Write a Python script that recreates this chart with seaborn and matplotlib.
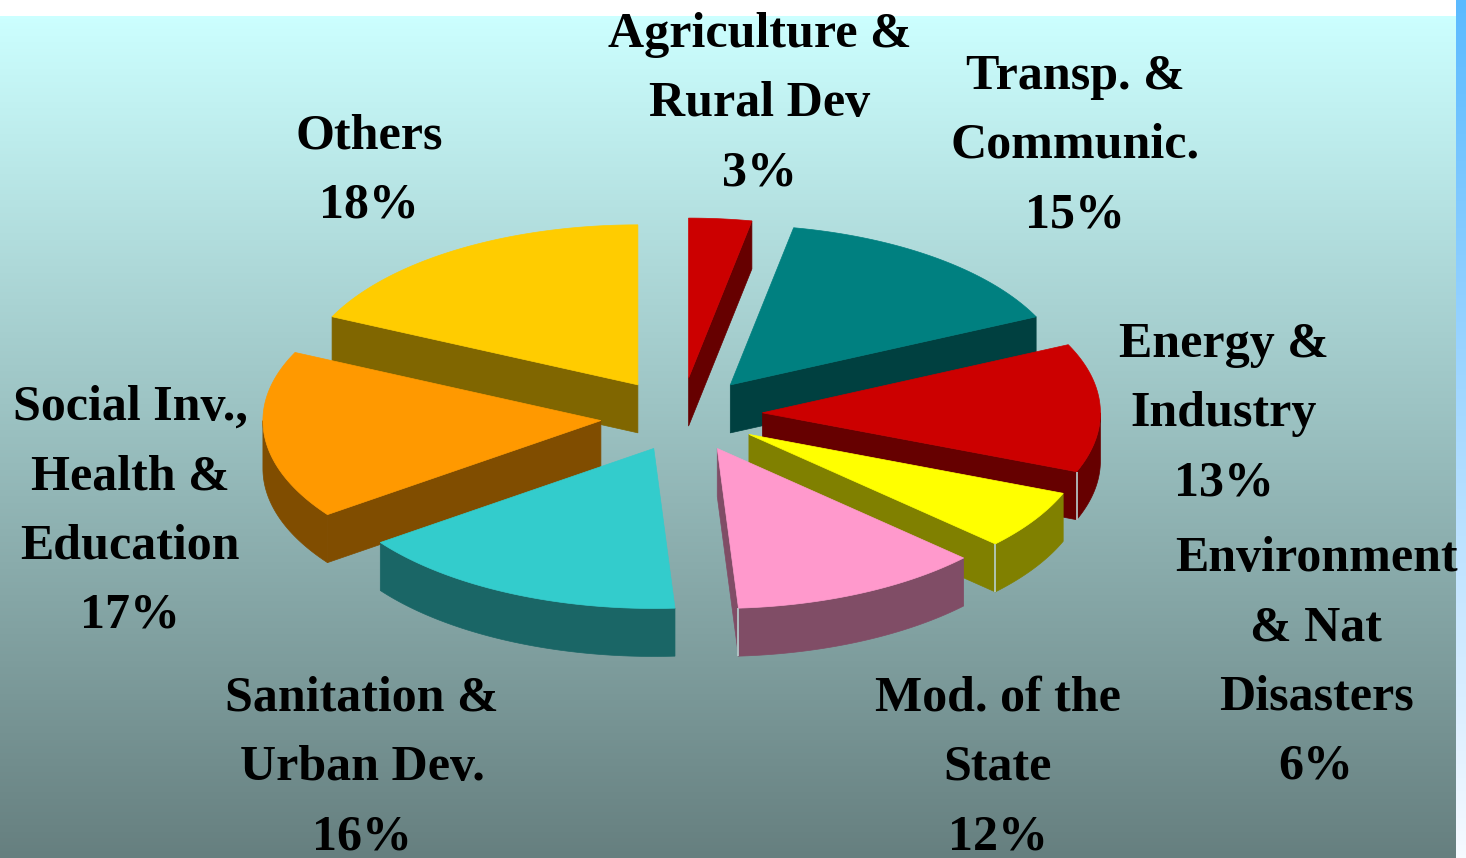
import numpy as np
import matplotlib
matplotlib.use("Agg")
import matplotlib.pyplot as plt
from matplotlib.colors import LinearSegmentedColormap
import seaborn as sns

# ---- data ----
sectors = ["Agriculture &\nRural Dev", "Transp. &\nCommunic.", "Energy &\nIndustry",
           "Environment\n& Nat\nDisasters", "Mod. of the\nState", "Sanitation &\nUrban Dev.",
           "Social Inv.,\nHealth &\nEducation", "Others"]
shares = [3, 15, 13, 6, 12, 16, 17, 18]
top_colors = ["#CC0000", "#008080", "#CC0000", "#FFFF00", "#FF99CC", "#33CCCC", "#FF9900", "#FFCC00"]

# ---- layout ----
label_centers = [(760, 104), (1075, 146), (1224, 414), (1316, 663),
                 (998, 768), (362, 768), (130, 512), (369, 171)]
nudges = [(0, 2), (0, 1), (1, 0), (0, 0), (2, 0), (7, 0), (0, 3), (0, 3)]
CX, CY = 681, 414
RX, RY = 338, 160
EXPLODE = 0.238
DEPTH = 48
BG_TOP, BG_BOTTOM = "#CCFFFF", "#667F7F"

sns.set_theme(style="white")
plt.rcParams["font.family"] = ["Liberation Serif", "DejaVu Serif"]
palette = sns.color_palette(top_colors)
shades = [tuple(c * 0.5 for c in rgb) for rgb in palette]

fig = plt.figure(figsize=(14.66, 8.58), dpi=100, facecolor="white")
ax = fig.add_axes([0, 0, 1, 1])
ax.axis("off")

ramp = np.linspace(0, 1, 256).reshape(-1, 1)
bg = LinearSegmentedColormap.from_list("bg", [BG_TOP, BG_BOTTOM])
strip = LinearSegmentedColormap.from_list("strip", ["#5BBAFF", "#F6FAFF"])
ax.imshow(ramp, cmap=bg, extent=(0, 1456, 858, 16), aspect="auto", zorder=0)
ax.imshow(ramp, cmap=strip, extent=(1456, 1466, 858, 0), aspect="auto", zorder=0)
ax.set_xlim(0, 1466)
ax.set_ylim(858, 0)


def rim(angles, x0, y0):
    r = np.radians(angles)
    return x0 + RX * np.sin(r), y0 - RY * np.cos(r)


edges = np.concatenate([[0], np.cumsum(shares)]) * 3.6
mids = (edges[:-1] + edges[1:]) / 2
order = np.argsort(-np.cos(np.radians(mids)))

z = 2
for i in order:
    a0, a1, m = edges[i], edges[i + 1], np.radians(mids[i])
    tx = CX + EXPLODE * RX * np.sin(m) + nudges[i][0]
    ty = CY - EXPLODE * RY * np.cos(m) + nudges[i][1]
    # radial walls that face the viewer
    for ang, visible in ((a1, 0 < a1 < 180), (a0, 180 < a0 < 360)):
        if visible:
            ex, ey = rim(np.array([ang]), tx, ty)
            ax.fill([tx, ex[0], ex[0], tx], [ty, ey[0], ey[0] + DEPTH, ty + DEPTH],
                    color=shades[i], lw=0.5, zorder=z)
    # outer curved wall, front half only
    lo, hi = max(a0, 90), min(a1, 270)
    if lo < hi:
        xs, ys = rim(np.linspace(lo, hi, 60), tx, ty)
        ax.fill(np.r_[xs, xs[::-1]], np.r_[ys, ys[::-1] + DEPTH],
                color=shades[i], lw=0.5, zorder=z)
    # thin highlight on the front corner
    if 90 < a1 < 180:
        ex, ey = rim(np.array([a1]), tx, ty)
        ax.plot([ex[0], ex[0]], [ey[0], ey[0] + DEPTH], color="#B8D0D0", lw=1.2,
                zorder=z + 0.5, solid_capstyle="butt")
    # top face
    xs, ys = rim(np.linspace(a0, a1, 80), tx, ty)
    ax.fill(np.r_[tx, xs], np.r_[ty, ys], color=palette[i], lw=0.5, zorder=z + 1)
    z += 2

for name, share, (x, y) in zip(sectors, shares, label_centers):
    ax.text(x, y, f"{name}\n{share}%", ha="center", va="center", multialignment="center",
            fontsize=36, fontweight="bold", color="black", linespacing=1.665, zorder=100)

fig.savefig("out.png", dpi=100)
